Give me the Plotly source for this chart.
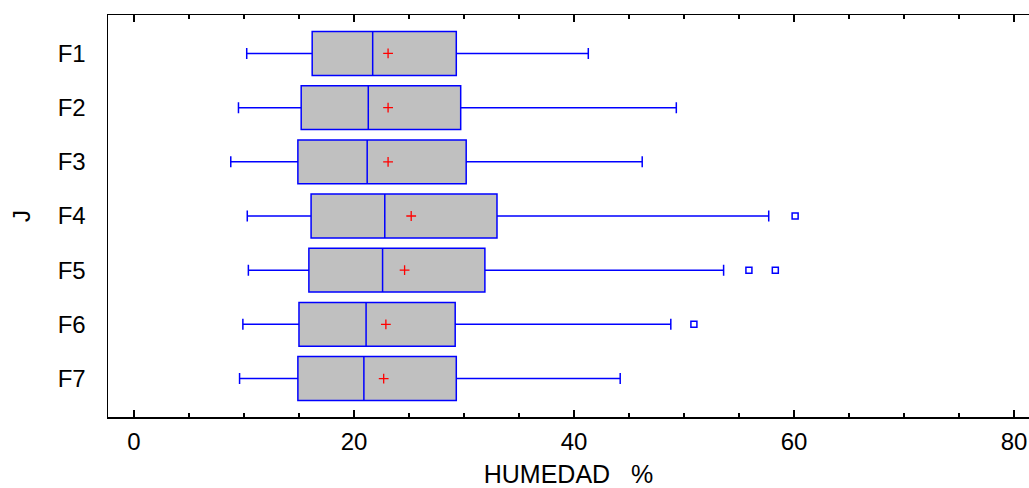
import plotly.graph_objects as go

categories = ["F1", "F2", "F3", "F4", "F5", "F6", "F7"]
lower_whisker = [10.25, 9.5, 8.8, 10.3, 10.4, 9.9, 9.6]
q1 = [16.2, 15.2, 14.9, 16.1, 15.9, 15.0, 14.9]
median = [21.7, 21.3, 21.2, 22.8, 22.6, 21.1, 20.9]
q3 = [29.3, 29.7, 30.2, 33.0, 31.9, 29.2, 29.3]
upper_whisker = [41.3, 49.3, 46.2, 57.7, 53.6, 48.8, 44.2]
means = [23.1, 23.1, 23.1, 25.2, 24.6, 22.9, 22.7]
outlier_cat = ["F4", "F5", "F5", "F6"]
outlier_val = [60.1, 55.9, 58.3, 50.9]

x_ticks = [0, 20, 40, 60, 80]

FONT = "Liberation Sans, Arial, sans-serif"
BLUE = "#0000FF"

fig = go.Figure()
fig.add_trace(go.Box(
    y=categories, q1=q1, median=median, q3=q3,
    lowerfence=lower_whisker, upperfence=upper_whisker,
    orientation="h", fillcolor="#C0C0C0",
    line=dict(color=BLUE, width=1.5), whiskerwidth=0.25, width=0.81,
    showlegend=False, hoverinfo="skip",
))
fig.add_trace(go.Scatter(
    x=means, y=categories, mode="markers",
    marker=dict(symbol="cross-thin", size=7, line=dict(color="#FF0000", width=1.3)),
    showlegend=False, hoverinfo="skip",
))
fig.add_trace(go.Scatter(
    x=outlier_val, y=outlier_cat, mode="markers",
    marker=dict(symbol="square-open", size=6, color=BLUE, line=dict(color=BLUE, width=1.5)),
    showlegend=False, hoverinfo="skip",
))

fig.update_layout(
    width=1029, height=488,
    margin=dict(l=108, r=0, t=15, b=71),
    plot_bgcolor="white", paper_bgcolor="white",
    font=dict(family=FONT, size=24, color="black"),
)
fig.update_xaxes(
    range=[-2.36, 81.36], tickvals=x_ticks, showgrid=False, zeroline=False,
    showline=True, linecolor="black", linewidth=1.5, mirror="ticks",
    ticks="inside", ticklen=7, tickwidth=1.5, tickcolor="black",
    minor=dict(dtick=5, tick0=0, ticks="inside", ticklen=4, tickwidth=1.5, tickcolor="black", showgrid=False),
    tickfont=dict(size=24), ticklabelstandoff=3,
    title=dict(text="HUMEDAD\u00a0\u00a0\u00a0%", font=dict(size=25), standoff=18),
    automargin=False,
)
fig.update_yaxes(
    type="category", categoryorder="array", categoryarray=categories,
    range=[6.71, -0.71], showgrid=False, zeroline=False,
    showline=True, linecolor="black", linewidth=1.5, mirror=False,
    ticks="", tickfont=dict(size=24), ticklabelstandoff=16,
    title=dict(text="J", font=dict(size=24), standoff=20),
    automargin=False,
)

fig.write_html(
    "out.html",
    config={"displayModeBar": False, "staticPlot": True},
    post_script=(
        "document.body.style.margin='0';"
        "document.body.style.overflow='hidden';"
        "document.documentElement.style.overflow='hidden';"
    ),
)
